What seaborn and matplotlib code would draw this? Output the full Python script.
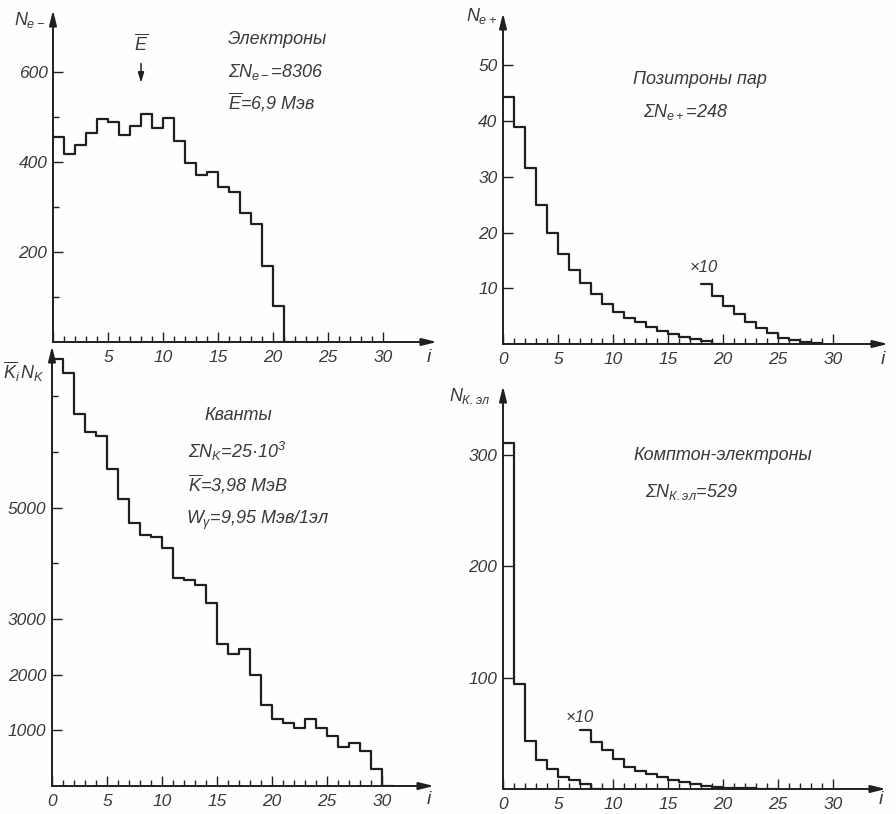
import numpy as np
import pandas as pd
import matplotlib
matplotlib.use("Agg")
import matplotlib.pyplot as plt
import seaborn as sns

# ---------------- data ----------------
electrons = [456, 419, 438, 465, 495, 490, 461, 481, 506, 476, 498,
             447, 397, 371, 378, 345, 333, 287, 263, 169, 80]
positrons = [44.4, 38.9, 31.5, 24.9, 19.9, 16.2, 13.3, 10.9, 9.0, 7.2,
             5.8, 4.7, 3.9, 3.1, 2.4, 1.8, 1.3, 0.9, 0.6]
positrons_x10_start = 18
positrons_x10 = [10.8, 8.6, 6.9, 5.3, 3.9, 2.9, 2.0, 1.1, 0.7, 0.4, 0.25]
quanta = [7665, 7407, 6677, 6347, 6293, 5683, 5156, 4719, 4515, 4473,
          4269, 3737, 3707, 3617, 3281, 2557, 2377, 2461, 1988, 1461,
          1198, 1132, 1042, 1210, 1048, 904, 701, 778, 629, 299]
compton = [311, 94, 43.4, 26, 18, 11, 8, 4.5]
compton_x10_start = 7
compton_x10 = [53, 42, 35, 26.6, 20, 16.5, 13.5, 10.5, 8, 6, 4.2, 2.7,
               1.8, 1.3, 0.9, 0.6, 0.4, 0.3]

x_ticks = [0, 5, 10, 15, 20, 25, 30]
x_tick_labels_top_left = ["", "5", "10", "15", "20", "25", "30"]
x_tick_labels = ["0", "5", "10", "15", "20", "25", "30"]
e_ticks = [200, 400, 600]
e_minor = [100, 300, 500]
p_ticks = [10, 20, 30, 40, 50]
q_ticks = [1000, 2000, 3000, 5000]
q_minor = [4000, 6000, 7000]
c_ticks = [100, 200, 300]

# ---------------- style ----------------
sns.set_style("white")
plt.rcParams["font.family"] = ["Liberation Sans", "DejaVu Sans"]
plt.rcParams["font.style"] = "italic"
plt.rcParams["mathtext.fontset"] = "custom"
plt.rcParams["mathtext.it"] = "Liberation Sans:italic"
plt.rcParams["mathtext.rm"] = "Liberation Sans:italic"
plt.rcParams["mathtext.bf"] = "Liberation Sans:italic:bold"
plt.rcParams["mathtext.sf"] = "Liberation Sans:italic"

LINE = "#1f1f1f"
TXT = "#3a3a3a"
W, H = 896, 814

fig = plt.figure(figsize=(W / 100, H / 100), dpi=100, facecolor="#fefefc")


def fx(px):
    return px / W


def fy(py):
    return 1 - py / H


def make_ax(left, right, bottom, top):
    ax = fig.add_axes([fx(left), fy(bottom), fx(right - left), fy(top) - fy(bottom)])
    ax.set_facecolor("none")
    for s in ax.spines.values():
        s.set_visible(False)
    ax.annotate("", xy=(1, 0), xytext=(0, 0), xycoords="axes fraction",
                arrowprops=dict(arrowstyle="-|>,head_length=0.9,head_width=0.22",
                                lw=1.4, color=LINE, shrinkA=0, shrinkB=0))
    ax.annotate("", xy=(0, 1), xytext=(0, 0), xycoords="axes fraction",
                arrowprops=dict(arrowstyle="-|>,head_length=0.9,head_width=0.22",
                                lw=1.4, color=LINE, shrinkA=0, shrinkB=0))
    return ax


def steps(ax, values, start=0, drop_end=True):
    n = len(values)
    df = pd.DataFrame({"i": start + np.arange(n) + 0.5, "w": values})
    edges = [float(e) for e in np.arange(start, start + n + (2 if drop_end else 1))]
    sns.histplot(data=df, x="i", weights="w", bins=edges, element="step",
                 fill=False, color=LINE, lw=1.6, ax=ax)
    ax.set_xlabel("")
    ax.set_ylabel("")


def style_ticks(ax, xlabels, yt, yminor=None):
    ax.set_xticks(x_ticks)
    ax.set_xticklabels(xlabels)
    ax.set_xticks(np.arange(1, 31), minor=True)
    ax.set_yticks(yt)
    ax.set_yticklabels([str(v) for v in yt])
    if yminor:
        ax.set_yticks(yminor, minor=True)
    ax.tick_params(which="both", direction="in", colors=LINE, width=1,
                   labelcolor=TXT, labelsize=12.5, bottom=True, left=True,
                   top=False, right=False)
    ax.tick_params(which="major", length=7)
    ax.tick_params(which="minor", length=4)
    ax.tick_params(axis="x", pad=6)
    ax.tick_params(axis="y", pad=4)


# ---- panel 1: electrons
ax1 = make_ax(53, 437, 342, 10)
steps(ax1, electrons)
ax1.set_xlim(0, 34.9)
ax1.set_ylim(0, 738)
style_ticks(ax1, x_tick_labels_top_left, e_ticks, e_minor)
ax1.annotate("", xy=(8, 570), xytext=(8, 625),
             arrowprops=dict(arrowstyle="-|>,head_length=0.6,head_width=0.18",
                             lw=1.1, color=LINE))
ax1.text(8, 640, r"$\overline{E}$", ha="center", va="bottom", fontsize=13, color=TXT)

# ---- panel 2: positrons
ax2 = make_ax(503, 888, 344, 13)
steps(ax2, positrons)
steps(ax2, positrons_x10, start=positrons_x10_start, drop_end=False)
ax2.set_xlim(0, 35)
ax2.set_ylim(0, 59.4)
style_ticks(ax2, x_tick_labels, p_ticks)

# ---- panel 3: quanta
ax3 = make_ax(52, 434, 786, 346)
steps(ax3, quanta)
ax3.set_xlim(0, 34.7)
ax3.set_ylim(0, 7900)
style_ticks(ax3, x_tick_labels, q_ticks, q_minor)

# ---- panel 4: compton electrons
ax4 = make_ax(503, 886, 789, 386)
steps(ax4, compton)
steps(ax4, compton_x10, start=compton_x10_start, drop_end=False)
ax4.set_xlim(0, 34.8)
ax4.set_ylim(0, 362)
style_ticks(ax4, x_tick_labels, c_ticks)

# ---------------- texts ----------------
def t(px, py, s, size=13, ha="left"):
    fig.text(fx(px), fy(py), s, fontsize=size, color=TXT, ha=ha, va="center")

# axis names
t(14, 20, r"$N_{e-}$", 13)
t(466, 16, r"$N_{e+}$", 13)
t(3, 372, r"$\overline{K}_i\,N_K$", 13)
t(449, 396, r"$N_{К.эл}$", 13)
for px, py in [(427, 357), (881, 360), (427, 800), (879, 800)]:
    t(px, py, "i", 14)

# panel 1
t(228, 40, "Электроны")
t(228, 72, r"$\Sigma N_{e-}$=8306")
t(228, 102, r"$\overline{E}$=6,9 Мэв")
# panel 2
t(633, 80, "Позитроны пар")
t(643, 112, r"$\Sigma N_{e+}$=248")
t(690, 268, "×10", 12)
# panel 3
t(204, 415, "Кванты")
t(188, 451, r"$\Sigma N_K$=25·10$^3$")
t(188, 484, r"$\overline{K}$=3,98 МэВ")
t(186, 520, r"$W_\gamma$=9,95 Мэв/1эл")
# panel 4
t(633, 456, "Комптон-электроны")
t(645, 492, r"$\Sigma N_{К.эл}$=529")
t(566, 718, "×10", 12)

fig.savefig("out.png", dpi=100, facecolor=fig.get_facecolor())
